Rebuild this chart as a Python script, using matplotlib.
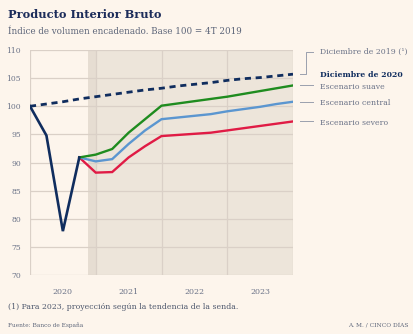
import matplotlib
matplotlib.use("Agg")
import matplotlib.pyplot as plt
import matplotlib.transforms as mtransforms

# Quarterly index: 0 = 4T 2019 ... 16 = 4T 2023
quarters = list(range(17))
year_labels = ["2020", "2021", "2022", "2023"]
y_ticks = [70, 75, 80, 85, 90, 95, 100, 105, 110]

# December 2019 projection (dashed)
proj_dic2019 = [100.0, 100.4, 100.8, 101.3, 101.7, 102.1, 102.5, 102.9, 103.2,
                103.6, 103.9, 104.2, 104.6, 104.9, 105.1, 105.4, 105.7]

# Observed path used in the December 2020 report
obs_q = [0, 1, 2, 3]
obs_dic2020 = [100.0, 94.8, 77.8, 90.9]

# Scenarios from 3T 2020
scen_q = list(range(3, 17))
suave = [90.9, 91.4, 92.4, 95.3, 97.7, 100.1, 100.5, 100.9, 101.3, 101.7,
         102.2, 102.7, 103.2, 103.7]
central = [90.9, 90.2, 90.6, 93.3, 95.7, 97.7, 98.0, 98.3, 98.6, 99.1,
           99.5, 99.9, 100.4, 100.8]
severo = [90.9, 88.2, 88.3, 90.9, 92.9, 94.7, 94.9, 95.1, 95.3, 95.7,
          96.1, 96.5, 96.9, 97.3]

BG = "#fdf5ec"
SHADE = "#ede5da"
GRID = "#dad0c7"
NAVY = "#102d5e"
GREEN = "#1f8c1f"
BLUE = "#5b96d0"
RED = "#e01b45"
TXT = "#6b7388"
SERIF = "DejaVu Serif"

W, H = 414, 334
fig = plt.figure(figsize=(W / 100, H / 100), dpi=100, facecolor=BG)
ax = fig.add_axes([30 / W, 1 - 275 / H, 263 / W, 225 / H], facecolor=BG)

ax.set_xlim(0, 16)
ax.set_ylim(70, 110)

# Forecast period shading
ax.axvspan(3.5, 16, color=SHADE, zorder=0, lw=0)
ax.axvspan(3.5, 4, color="#e6ddd2", zorder=0, lw=0)

for y in y_ticks:
    ax.axhline(y, color=GRID, lw=0.9, zorder=1)
for x in [0, 4, 8, 12, 16]:
    ax.axvline(x, color=GRID, lw=0.9, zorder=1)

for s in ax.spines.values():
    s.set_visible(False)

ax.set_yticks(y_ticks)
ax.set_yticklabels([str(v) for v in y_ticks], family=SERIF, fontsize=5.5, color=TXT)
ax.set_xticks([2, 6, 10, 14])
ax.set_xticklabels(year_labels, family=SERIF, fontsize=5.7, color=TXT)
ax.tick_params(axis="y", length=0, pad=6.5)
ax.tick_params(axis="x", length=0, pad=9)

ax.plot(scen_q, severo, color=RED, lw=1.7, zorder=3, solid_joinstyle="miter")
ax.plot(scen_q, central, color=BLUE, lw=1.7, zorder=3, solid_joinstyle="miter")
ax.plot(scen_q, suave, color=GREEN, lw=1.7, zorder=3, solid_joinstyle="miter")
ax.plot(quarters, proj_dic2019, color=NAVY, lw=2.0, ls=(0, (2.2, 1.7)), zorder=4)
ax.plot(obs_q, obs_dic2020, color=NAVY, lw=1.9, zorder=4, solid_joinstyle="miter")

# Right-hand labels with connectors
tr = mtransforms.blended_transform_factory(ax.transAxes, ax.transData)
lab_x = (320 - 30) / 263
c0 = (300 - 30) / 263
c1 = (313 - 30) / 263
cm = (306 - 30) / 263
top_y = 109.6
end19 = proj_dic2019[-1]
LAB = 5.6
ax.plot([c0, cm, cm, c1], [end19, end19, top_y, top_y], transform=tr,
        color="#9aa0ae", lw=0.7, clip_on=False)
ax.text(lab_x, top_y, "Diciembre de 2019 (¹)", transform=tr, family=SERIF,
        fontsize=LAB, color=TXT, va="center", ha="left")
ax.text(lab_x, end19 - 0.15, "Diciembre de 2020", transform=tr, family=SERIF,
        fontsize=LAB, color=NAVY, va="center", ha="left", fontweight="bold")
for vals, name in [(suave, "Escenario suave"), (central, "Escenario central"),
                   (severo, "Escenario severo")]:
    ax.plot([c0, c1], [vals[-1], vals[-1]], transform=tr, color="#9aa0ae",
            lw=0.7, clip_on=False)
    ax.text(lab_x, vals[-1] - 0.2, name, transform=tr, family=SERIF,
            fontsize=LAB, color=TXT, va="center", ha="left")

fig.text(8 / W, 1 - 14 / H, "Producto Interior Bruto", family=SERIF,
         fontsize=8.2, fontweight="bold", color="#1c2c5a", va="center", ha="left")
fig.text(8 / W, 1 - 31 / H, "Índice de volumen encadenado. Base 100 = 4T 2019",
         family=SERIF, fontsize=6.35, color="#5c6579", va="center", ha="left")
fig.text(8 / W, 1 - 307 / H,
         "(1) Para 2023, proyección según la tendencia de la senda.",
         family=SERIF, fontsize=5.6, color="#4e586d", va="center", ha="left")
fig.text(8 / W, 1 - 325 / H, "Fuente: Banco de España", family=SERIF,
         fontsize=4.2, color="#5c6579", va="center", ha="left")
fig.text(408 / W, 1 - 325 / H, "A. M. / CINCO DÍAS", family=SERIF,
         fontsize=4.2, color="#5c6579", va="center", ha="right")

fig.savefig("out.png", dpi=100, facecolor=BG)
